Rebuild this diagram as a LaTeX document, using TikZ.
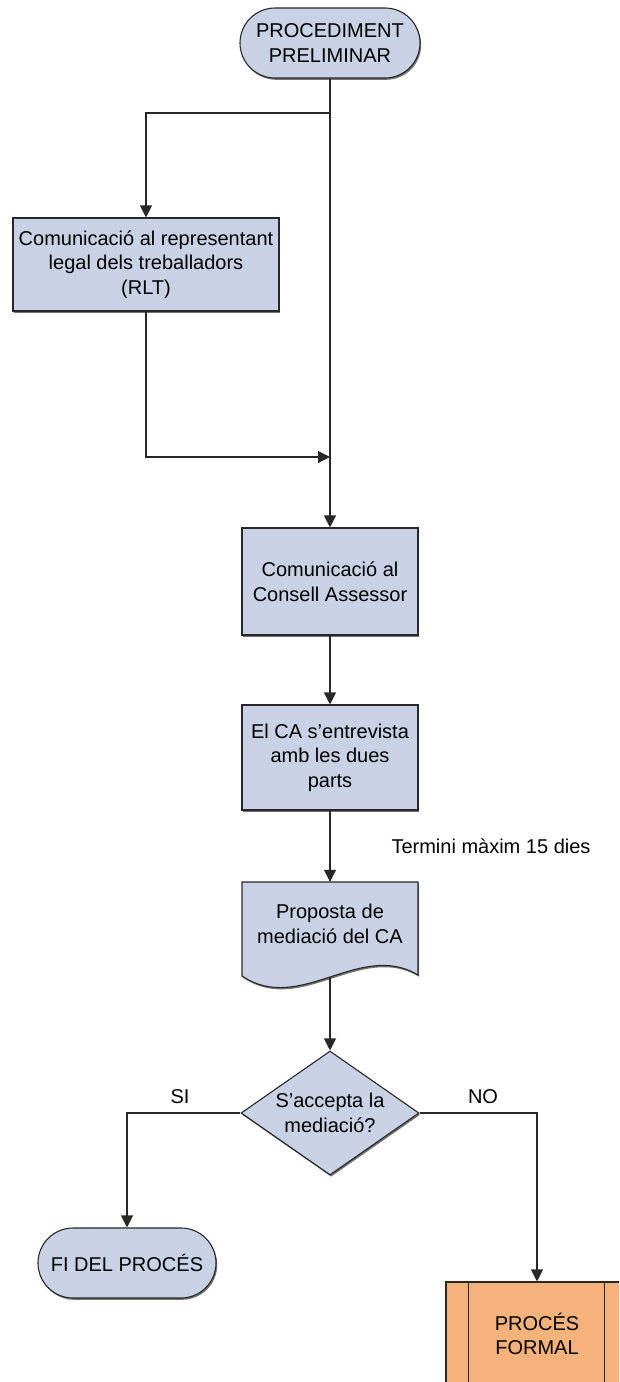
\documentclass[tikz,border=0pt]{standalone}
\usepackage{fontspec}
\setmainfont{Liberation Sans}
\usetikzlibrary{arrows.meta,shapes.geometric,shadows}
\definecolor{boxblue}{RGB}{200,210,228}
\definecolor{boxorange}{RGB}{245,178,122}
\definecolor{linecol}{RGB}{40,40,40}
\begin{document}
\begin{tikzpicture}[x=1pt,y=-1pt,
  font=\fontsize{20}{24.5}\selectfont,
  line/.style={draw=linecol, line width=1.1pt},
  arr/.style={line, -{Triangle[length=12pt,width=12pt]}},
  shade/.style={drop shadow={shadow xshift=1.2pt,shadow yshift=-1.8pt,fill=black!55,opacity=1}},
  proc/.style={rectangle, draw=linecol, line width=1.1pt, fill=boxblue, align=center, inner sep=0pt, shade},
  term/.style={proc, rounded corners=35pt},
  dia/.style={diamond, draw=linecol, line width=1.1pt, fill=boxblue, inner sep=0pt, shade},
  lbl/.style={inner sep=0pt, align=center},
  predef/.style={rectangle, draw=linecol, line width=1.1pt, fill=boxorange, align=center, inner sep=0pt},
  docbox/.style={draw=linecol, line width=1.1pt, fill=boxblue, shade}
]
\useasboundingbox (0,0) rectangle (619,1382);
\clip (0,0) rectangle (619,1382);

% nodes
\node[term, minimum width=180pt, minimum height=70pt] (start) at (330,43) {PROCEDIMENT\\PRELIMINAR};
\node[proc, minimum width=266pt, minimum height=93pt] (rlt) at (146,264.5) {Comunicació al representant\\legal dels treballadors\\(RLT)};
\node[proc, minimum width=176pt, minimum height=107pt] (b2) at (330,581.5) {Comunicació al\\Consell Assessor};
\node[proc, minimum width=176pt, minimum height=105pt] (b3) at (330,757.5) {El CA s’entrevista\\amb les dues\\parts};

% document shape
\draw[docbox] (242,882) -- (418,882) -- (418,975) .. controls (360,940) and (300,1015) .. (242,976) -- cycle;
\node[lbl, minimum width=176pt, minimum height=95pt] (doc) at (330,929.5) {};
\node[lbl] (doctext) at (330,924) {Proposta de\\mediació del CA};
\coordinate (docb) at (330,977);

\node[dia, minimum width=178pt, minimum height=124pt] (dec) at (330,1113) {};
\node[lbl] (dectext) at (330,1113) {S’accepta la\\mediació?};

\node[term, minimum width=178pt, minimum height=70pt] (fi) at (127,1263) {FI DEL PROCÉS};
\node[predef, minimum width=182pt, minimum height=104pt] (pf) at (537,1334) {PROCÉS\\FORMAL};
\draw[line] ([xshift=23pt]pf.north west) -- ([xshift=23pt]pf.south west);
\draw[line] ([xshift=-24pt]pf.north east) -- ([xshift=-24pt]pf.south east);

% labels
\node[lbl] (termini) at (491,846) {Termini màxim 15 dies};
\node[lbl] (si) at (180,1097) {SI};
\node[lbl] (no) at (483,1097) {NO};

% connectors
\coordinate (br) at (330,113);
\coordinate (join) at (330,457);
\draw[arr] (start.south) -- (b2.north);
\draw[arr] (br) -| (rlt.north);
\draw[arr] (rlt.south) |- (join);
\draw[arr] (b2.south) -- (b3.north);
\draw[arr] (b3.south) -- (doc.north);
\draw[arr] (docb) -- (dec.north);
\draw[arr] (dec.west) -| (fi.north);
\draw[arr] (dec.east) -| (pf.north);
\end{tikzpicture}
\end{document}
